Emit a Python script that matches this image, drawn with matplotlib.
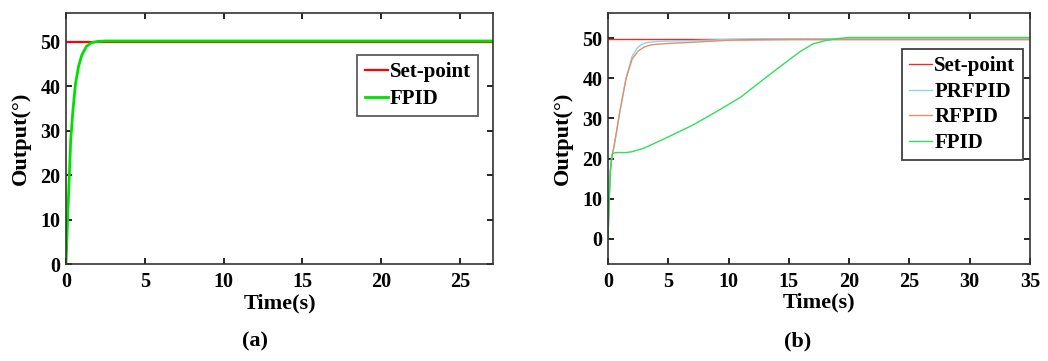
import matplotlib
matplotlib.use("Agg")
import matplotlib.pyplot as plt

plt.rcParams["font.family"] = ["Liberation Serif", "DejaVu Serif"]
plt.rcParams["font.weight"] = "bold"

# panel (a)
a_setpoint = 50
a_fpid_t = [0, 0.05, 0.1, 0.2, 0.3, 0.45, 0.6, 0.8, 1.0, 1.3, 1.6, 2.0, 2.5, 27.1]
a_fpid_y = [0, 5, 10, 19, 28, 35, 40.5, 44.5, 47, 49, 49.8, 50.1, 50.2, 50.2]

# panel (b)
b_setpoint = 49.8
b_prfpid_t = [0, 0.1, 0.2, 0.35, 0.5, 1.0, 1.5, 2.0, 2.4, 2.8, 3.2, 4.0, 5.0, 7.0, 10.0, 12.0, 35.0]
b_prfpid_y = [0, 10, 17, 21, 23, 32, 40, 45.5, 47.5, 48.5, 48.9, 49.2, 49.3, 49.4, 49.7, 49.9, 49.9]
b_rfpid_t = [0, 0.1, 0.2, 0.35, 0.5, 1.0, 1.5, 2.0, 2.5, 3.0, 3.5, 4.0, 5.0, 7.0, 10.0, 15.0, 35.0]
b_rfpid_y = [0, 10, 17, 21, 23, 32, 40, 44.8, 46.8, 47.8, 48.3, 48.5, 48.7, 49.0, 49.5, 49.7, 49.7]
b_fpid_t = [0, 0.1, 0.2, 0.3, 0.4, 0.7, 1.0, 1.5, 2.0, 3.0, 4.0, 5.0, 7.0, 9.0, 11.0, 13.0, 15.0,
            16.0, 17.0, 18.0, 19.0, 20.0, 35.0]
b_fpid_y = [0, 10, 17, 20.5, 21.3, 21.5, 21.5, 21.5, 21.7, 22.6, 24.0, 25.4, 28.3, 31.7, 35.3,
            40.0, 44.6, 46.8, 48.6, 49.4, 49.9, 50.2, 50.2]

fig = plt.figure(figsize=(10.48, 3.61), dpi=100)

legend_kw = dict(loc="upper right", fontsize=15, frameon=True, fancybox=False,
                 handlelength=1.1, handletextpad=0.1, borderpad=0.35,
                 borderaxespad=0)

ax1 = fig.add_axes([66 / 1048, 1 - 264 / 361, 427 / 1048, 251 / 361])
ax1.plot([0, 27.1], [a_setpoint, a_setpoint], color="#ff0000", lw=1.6, label="Set-point")
ax1.plot(a_fpid_t, a_fpid_y, color="#00e000", lw=2.0, label="FPID")
ax1.set_xlim(0, 27.1)
ax1.set_ylim(0, 56.5)
ax1.set_xticks([0, 5, 10, 15, 20, 25])
ax1.set_yticks([0, 10, 20, 30, 40, 50])
ax1.set_xlabel("Time(s)", fontsize=16, fontweight="bold", labelpad=1)
ax1.set_ylabel("Output(°)", fontsize=16, fontweight="bold", labelpad=7)
ax1.legend(bbox_to_anchor=(0.965, 0.833), edgecolor="#333333", labelspacing=0.33, **legend_kw)
ax1.text(0.443, -0.27, "(a)", transform=ax1.transAxes, ha="center", va="top", fontsize=16)

ax2 = fig.add_axes([608 / 1048, 1 - 264 / 361, 422 / 1048, 251 / 361])
ax2.plot([0, 35], [b_setpoint, b_setpoint], color="#e03030", lw=1.0, label="Set-point")
ax2.plot(b_prfpid_t, b_prfpid_y, color="#8fd3e8", lw=1.0, label="PRFPID")
ax2.plot(b_rfpid_t, b_rfpid_y, color="#e0906a", lw=1.0, label="RFPID")
ax2.plot(b_fpid_t, b_fpid_y, color="#2ee05a", lw=1.0, label="FPID")
ax2.set_xlim(0, 35)
ax2.set_ylim(-6.3, 56.3)
ax2.set_xticks([0, 5, 10, 15, 20, 25, 30, 35])
ax2.set_yticks([0, 10, 20, 30, 40, 50])
ax2.set_xlabel("Time(s)", fontsize=16, fontweight="bold", labelpad=0)
ax2.set_ylabel("Output(°)", fontsize=16, fontweight="bold", labelpad=7)
ax2.legend(bbox_to_anchor=(0.983, 0.857), edgecolor="#111111", labelspacing=0.27, **legend_kw)
ax2.text(0.45, -0.27, "(b)", transform=ax2.transAxes, ha="center", va="top", fontsize=16)

for ax in (ax1, ax2):
    ax.tick_params(direction="in", top=True, right=True, labelsize=14.5, length=4, width=1.2)
    ax.tick_params(axis="x", pad=6)
    ax.tick_params(axis="y", pad=4)
    for lab in ax.get_xticklabels() + ax.get_yticklabels():
        lab.set_fontweight("bold")
    for s in ax.spines.values():
        s.set_linewidth(1.2)
        s.set_color("#333333")
    ax.get_legend().get_frame().set_linewidth(1.3)

fig.savefig("out.png", dpi=100)
